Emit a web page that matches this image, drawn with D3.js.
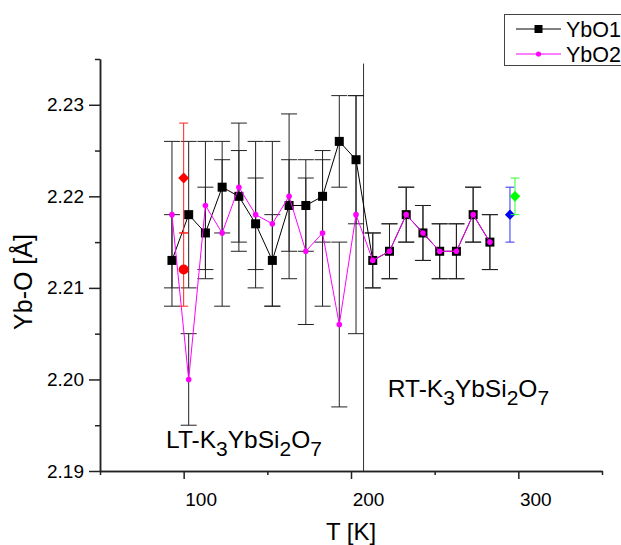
<!DOCTYPE html>
<html>
<head>
<meta charset="utf-8">
<script src="https://cdn.jsdelivr.net/npm/d3@7"></script>
<style>
  body { margin: 0; background: #fff; }
  svg { display: block; font-family: 'Liberation Sans', Arial, sans-serif; }
</style>
</head>
<body>
<div id="chart"></div>
<script>
// data
let temps = [93, 103, 113, 123, 133, 143, 153, 163, 173, 183, 193, 203, 213, 223, 233, 243, 253, 263, 273, 283]
let ybo1 = [2.213, 2.218, 2.216, 2.221, 2.220, 2.217, 2.213, 2.219, 2.219, 2.220, 2.226, 2.224, 2.213, 2.214, 2.218, 2.216, 2.214, 2.214, 2.218, 2.215]
let ybo1Err = [0.005, 0.008, 0.005, 0.005, 0.005, 0.005, 0.005, 0.005, 0.005, 0.005, 0.005, 0.007, 0.003, 0.003, 0.003, 0.003, 0.003, 0.003, 0.003, 0.003]
let ybo2 = [2.218, 2.200, 2.219, 2.216, 2.221, 2.218, 2.217, 2.220, 2.214, 2.216, 2.206, 2.218, 2.213, 2.214, 2.218, 2.216, 2.214, 2.214, 2.218, 2.215]
let ybo2Err = [0.008, 0.005, 0.007, 0.008, 0.007, 0.008, 0.009, 0.009, 0.008, 0.008, 0.009, 0.013, 0.003, 0.003, 0.003, 0.003, 0.003, 0.003, 0.003, 0.003]

// single reference points
let redTemps = [100, 100]
let redValues = [2.222, 2.212]
let redErrors = [0.006, 0.004]
let blueTemps = [295]
let blueValues = [2.218]
let blueErrors = [0.003]
let greenTemps = [298]
let greenValues = [2.220]
let greenErrors = [0.002]

let boundaryT = 207.5

let xTicks = [100, 200, 300]
let xMinorTicks = [50, 150, 250, 350]
let yTicks = [2.19, 2.20, 2.21, 2.22, 2.23]
let yMinorTicks = [2.195, 2.205, 2.215, 2.225, 2.235]

let width = 621
let height = 545
let margin = { top: 59, left: 100, right: 19, bottom: 74 }

let svg = d3.select('#chart')
  .append('svg')
  .attr('width', width)
  .attr('height', height)

let x = d3.scaleLinear().domain([50, 350]).range([margin.left, width - margin.right])
let y = d3.scaleLinear().domain([2.19, 2.235]).range([height - margin.bottom, margin.top])

// phase boundary
svg.append('line')
  .attr('x1', x(boundaryT)).attr('x2', x(boundaryT))
  .attr('y1', y(2.2345)).attr('y2', y(2.19))
  .attr('stroke', '#333')
  .attr('stroke-width', 1)

function errorBars(temp, vals, errs, color, cap) {
  let g = svg.append('g')
  vals.forEach((v, i) => {
    let cx = x(temp[i])
    g.append('line')
      .attr('x1', cx).attr('x2', cx)
      .attr('y1', y(v + errs[i])).attr('y2', y(v - errs[i]))
      .attr('stroke', color)
    ;[v + errs[i], v - errs[i]].forEach(e => {
      g.append('line')
        .attr('x1', cx - cap).attr('x2', cx + cap)
        .attr('y1', y(e)).attr('y2', y(e))
        .attr('stroke', color)
    })
  })
}

errorBars(temps, ybo1, ybo1Err, '#222', 8)
errorBars(temps, ybo2, ybo2Err, '#222', 8)

let line = d3.line()
  .x(d => x(d[0]))
  .y(d => y(d[1]))

// YbO1
svg.append('path')
  .datum(d3.zip(temps, ybo1))
  .attr('d', line)
  .attr('fill', 'none')
  .attr('stroke', '#000')
  .attr('stroke-width', 1)

svg.selectAll('.sq')
  .data(d3.zip(temps, ybo1))
  .enter()
  .append('rect')
  .attr('class', 'sq')
  .attr('x', d => x(d[0]) - 4.5)
  .attr('y', d => y(d[1]) - 4.5)
  .attr('width', 9)
  .attr('height', 9)
  .attr('fill', '#000')

// YbO2
svg.append('path')
  .datum(d3.zip(temps, ybo2))
  .attr('d', line)
  .attr('fill', 'none')
  .attr('stroke', '#ff00ff')
  .attr('stroke-width', 1)

svg.selectAll('.dot')
  .data(d3.zip(temps, ybo2))
  .enter()
  .append('circle')
  .attr('class', 'dot')
  .attr('cx', d => x(d[0]))
  .attr('cy', d => y(d[1]))
  .attr('r', 2.8)
  .attr('fill', '#ff00ff')

// reference points
let diamond = d3.symbol().type(d3.symbolDiamond2)

errorBars(redTemps, redValues, redErrors, '#ff2020', 4.5)
svg.append('path')
  .attr('d', diamond.size(76)())
  .attr('transform', `translate(${x(redTemps[0])},${y(redValues[0])})`)
  .attr('fill', '#ff0000')
svg.append('circle')
  .attr('cx', x(redTemps[1]))
  .attr('cy', y(redValues[1]))
  .attr('r', 5)
  .attr('fill', '#ff0000')

errorBars(blueTemps, blueValues, blueErrors, '#3030ff', 4.5)
svg.append('path')
  .attr('d', diamond.size(66)())
  .attr('transform', `translate(${x(blueTemps[0])},${y(blueValues[0])})`)
  .attr('fill', '#0000ff')

errorBars(greenTemps, greenValues, greenErrors, '#30ff30', 4.5)
svg.append('path')
  .attr('d', diamond.size(72)())
  .attr('transform', `translate(${x(greenTemps[0])},${y(greenValues[0])})`)
  .attr('fill', '#00ff00')

// axes
let yAxis = d3.axisLeft(y).tickValues(yTicks).tickSize(11).tickSizeOuter(0).tickPadding(5).tickFormat(d3.format('.2f'))
let yMinor = d3.axisLeft(y).tickValues(yMinorTicks).tickSize(5).tickSizeOuter(0).tickFormat('')
let xAxis = d3.axisBottom(x).tickValues(xTicks).tickSize(8).tickSizeOuter(0).tickPadding(14).tickFormat(d3.format('d'))
let xMinor = d3.axisBottom(x).tickValues(xMinorTicks).tickSize(4).tickSizeOuter(0).tickFormat('')

function styleAxis(g) {
  g.selectAll('path, line').attr('stroke', '#222').attr('stroke-width', 1.5)
  g.selectAll('text').attr('fill', '#000').attr('font-size', 19).attr('font-family', "'Liberation Sans', Arial, sans-serif")
}

svg.append('g').attr('transform', `translate(${margin.left},0)`).call(yMinor).call(styleAxis)
svg.append('g').attr('transform', `translate(${margin.left},0)`).call(yAxis).call(styleAxis)
svg.append('g').attr('transform', `translate(0,${height - margin.bottom})`).call(xMinor).call(styleAxis)
svg.append('g').attr('transform', `translate(0,${height - margin.bottom})`).call(xAxis).call(styleAxis)
  .selectAll('text').attr('dx', 17)

// axis titles
svg.append('text')
  .text('T [K]')
  .attr('x', (margin.left + width - margin.right) / 2)
  .attr('y', 540)
  .attr('text-anchor', 'middle')
  .attr('font-size', 24)

svg.append('text')
  .text('Yb-O [Å]')
  .attr('transform', 'translate(32,282) rotate(-90)')
  .attr('text-anchor', 'middle')
  .attr('font-size', 25)

// phase labels
function phaseLabel(prefix, px, py) {
  let t = svg.append('text')
    .attr('x', px)
    .attr('y', py)
    .attr('font-size', 24.5)
  let parts = [[prefix + '-K', false], ['3', true], ['YbSi', false], ['2', true], ['O', false], ['7', true]]
  let shift = 0
  parts.forEach(p => {
    let dy = 0
    if (p[1] && shift === 0) { dy = 8; shift = 8 }
    if (!p[1] && shift === 8) { dy = -8; shift = 0 }
    t.append('tspan')
      .text(p[0])
      .attr('dy', dy)
      .attr('font-size', p[1] ? 21 : 24.5)
  })
}
phaseLabel('LT', x(89.5), y(2.1925))
phaseLabel('RT', x(222), y(2.1981))

// legend
let legend = svg.append('g')
legend.append('rect')
  .attr('x', 504.5).attr('y', 14.5)
  .attr('width', 130).attr('height', 51)
  .attr('fill', '#fff')
  .attr('stroke', '#444')
  .attr('stroke-width', 1)

legend.append('line').attr('x1', 516).attr('x2', 561).attr('y1', 29).attr('y2', 29).attr('stroke', '#000')
legend.append('rect').attr('x', 534.5).attr('y', 25).attr('width', 8).attr('height', 8).attr('fill', '#000')
legend.append('text').text('YbO1').attr('x', 566).attr('y', 36.5).attr('font-size', 21.5)

legend.append('line').attr('x1', 516).attr('x2', 561).attr('y1', 54).attr('y2', 54).attr('stroke', '#ff00ff')
legend.append('circle').attr('cx', 538.5).attr('cy', 54).attr('r', 2.6).attr('fill', '#ff00ff')
legend.append('text').text('YbO2').attr('x', 566).attr('y', 61.5).attr('font-size', 21.5)
</script>
</body>
</html>
